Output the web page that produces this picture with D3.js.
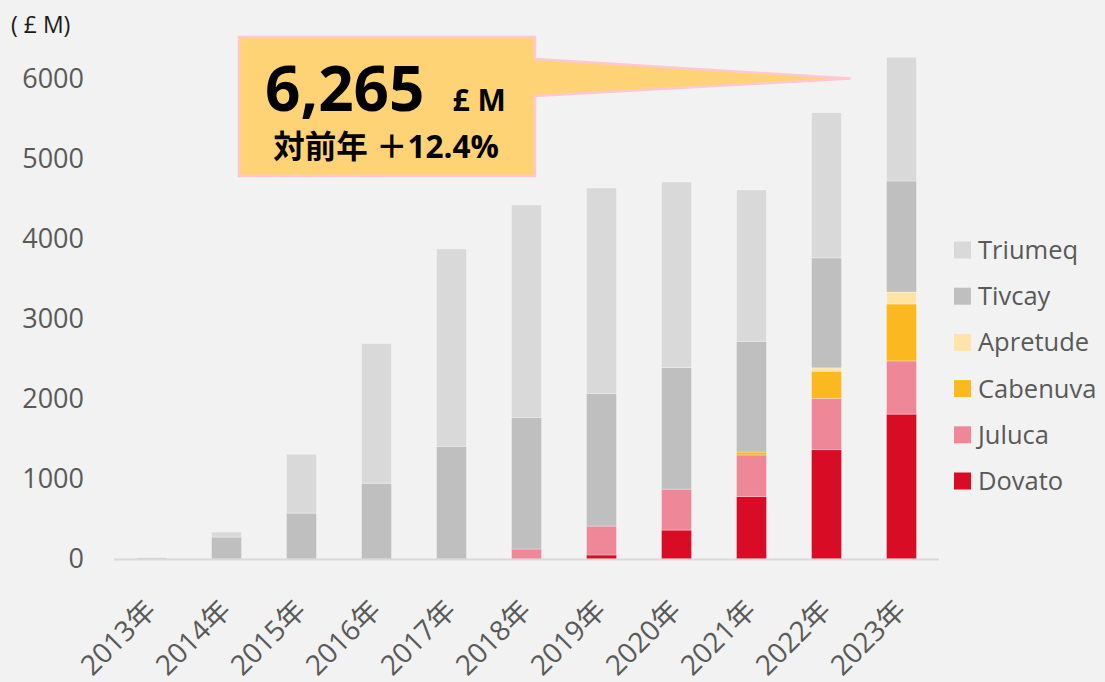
<!DOCTYPE html>
<html>
<head>
<meta charset="utf-8">
<script src="https://cdn.jsdelivr.net/npm/d3@7/dist/d3.min.js"></script>
<style>
  html, body { margin: 0; padding: 0; background: #f2f2f2; }
  svg { display: block; }
</style>
</head>
<body>
<div id="chart"></div>
<script>
(function () {
  'use strict';

  // Categories (x axis)
  const YEARS = ['2013年', '2014年', '2015年', '2016年', '2017年', '2018年',
                 '2019年', '2020年', '2021年', '2022年', '2023年'];

  // Series values, £M
  const DOVATO   = [0, 0, 0, 0, 0, 0, 50, 361, 781, 1366, 1809];
  const JULUCA   = [0, 0, 0, 0, 0, 125, 361, 511, 518, 639, 665];
  const CABENUVA = [0, 0, 0, 0, 0, 0, 0, 0, 37, 340, 710];
  const APRETUDE = [0, 0, 0, 0, 0, 0, 0, 0, 0, 42, 150];
  const TIVICAY  = [15, 274, 573, 946, 1407, 1643, 1656, 1519, 1382, 1374, 1386];
  const TRIUMEQ  = [0, 62, 735, 1744, 2466, 2653, 2566, 2316, 1890, 1813, 1545];

  const SERIES = ['Dovato', 'Juluca', 'Cabenuva', 'Apretude', 'Tivcay', 'Triumeq'];
  const VALUES = [DOVATO, JULUCA, CABENUVA, APRETUDE, TIVICAY, TRIUMEQ];
  const COLORS = ['#d80c24', '#ee8899', '#fbb81f', '#ffe4a8', '#bfbfbf', '#d9d9d9'];

  const Y_TICKS = [0, 1000, 2000, 3000, 4000, 5000, 6000];

  const W = 1105, H = 682;
  const FONT = '"Open Sans", "Noto Sans CJK JP", sans-serif';
  const TXT = '#595959';

  const svg = d3.select('#chart').append('svg')
    .attr('width', W).attr('height', H)
    .style('background', '#f2f2f2');

  const rows = YEARS.map((y, i) => {
    const r = { year: y };
    SERIES.forEach((s, k) => { r[s] = VALUES[k][i]; });
    return r;
  });
  const stacked = d3.stack().keys(SERIES)(rows);

  const x = d3.scaleBand().domain(YEARS).range([114, 939]).paddingInner(0.6).paddingOuter(0.3);
  const y = d3.scaleLinear().domain([0, 6000]).range([559, 78.5]);

  // Y axis (labels only)
  const yAxis = svg.append('g')
    .attr('transform', 'translate(84,0)')
    .call(d3.axisLeft(y).tickValues(Y_TICKS).tickFormat(d3.format('d')).tickSize(0).tickPadding(0));
  yAxis.select('.domain').remove();
  yAxis.selectAll('text')
    .attr('fill', TXT).attr('font-family', FONT).attr('font-size', 27);

  // Unit label
  svg.append('text')
    .attr('x', 11).attr('y', 33)
    .attr('fill', '#1a1a1a').attr('font-family', FONT).attr('font-size', 23)
    .text('( £ M)');

  // Bars
  svg.append('g').selectAll('g')
    .data(stacked)
    .join('g')
    .attr('fill', (d, i) => COLORS[i])
    .selectAll('rect')
    .data(d => d)
    .join('rect')
    .attr('x', d => x(d.data.year))
    .attr('y', d => y(d[1]))
    .attr('width', x.bandwidth())
    .attr('height', d => Math.max(0, y(d[0]) - y(d[1])))
    .attr('stroke', '#ffffff').attr('stroke-opacity', 0.3).attr('stroke-width', 1);

  // Baseline
  svg.append('line')
    .attr('x1', 114).attr('x2', 939)
    .attr('y1', y(0) + 0.5).attr('y2', y(0) + 0.5)
    .attr('stroke', '#d9d9d9').attr('stroke-width', 2);

  // X axis labels
  svg.append('g').selectAll('text')
    .data(YEARS)
    .join('text')
    .attr('transform', d => `translate(${x(d) + x.bandwidth() / 2 + 6},${612}) rotate(-45)`)
    .attr('text-anchor', 'end')
    .attr('fill', TXT).attr('font-family', FONT).attr('font-size', 28)
    .text(d => d);

  // Legend (top = Triumeq)
  const legend = svg.append('g');
  const order = SERIES.slice().reverse();
  order.forEach((s, i) => {
    const ly = 250 + i * 46.2;
    legend.append('rect')
      .attr('x', 954).attr('y', ly - 8.5)
      .attr('width', 17).attr('height', 17)
      .attr('fill', COLORS[SERIES.indexOf(s)]);
    legend.append('text')
      .attr('x', 978).attr('y', ly + 9)
      .attr('fill', TXT).attr('font-family', FONT).attr('font-size', 25.5)
      .text(s);
  });

  // Callout box with pointer to the 2023 bar
  const last = YEARS.length - 1;
  const total = d3.sum(VALUES, v => v[last]);
  const prev = d3.sum(VALUES, v => v[last - 1]);
  const tipX = x(YEARS[last]) - 36;
  const tipY = y(6000);
  const bx0 = 239, bx1 = 535, by0 = 37, by1 = 176;
  svg.append('path')
    .attr('d', `M${bx0},${by0} H${bx1} V59 L${tipX},${tipY} L${bx1},96 V${by1} H${bx0} Z`)
    .attr('fill', '#fdd375')
    .attr('stroke', '#ffc7ce').attr('stroke-width', 2.5)
    .attr('stroke-linejoin', 'miter');

  const big = svg.append('text')
    .attr('x', 265).attr('y', 111)
    .attr('font-family', FONT).attr('font-weight', 700).attr('fill', '#000');
  big.append('tspan').attr('font-size', 62).text(d3.format(',')(total));
  big.append('tspan').attr('font-size', 30).attr('dx', 28).text('£ M');

  svg.append('text')
    .attr('x', 386).attr('y', 158)
    .attr('text-anchor', 'middle')
    .attr('font-family', FONT).attr('font-weight', 700).attr('font-size', 31.5).attr('fill', '#000')
    .text('対前年 ＋' + ((total / prev - 1) * 100).toFixed(1) + '%');
})();
</script>
</body>
</html>
